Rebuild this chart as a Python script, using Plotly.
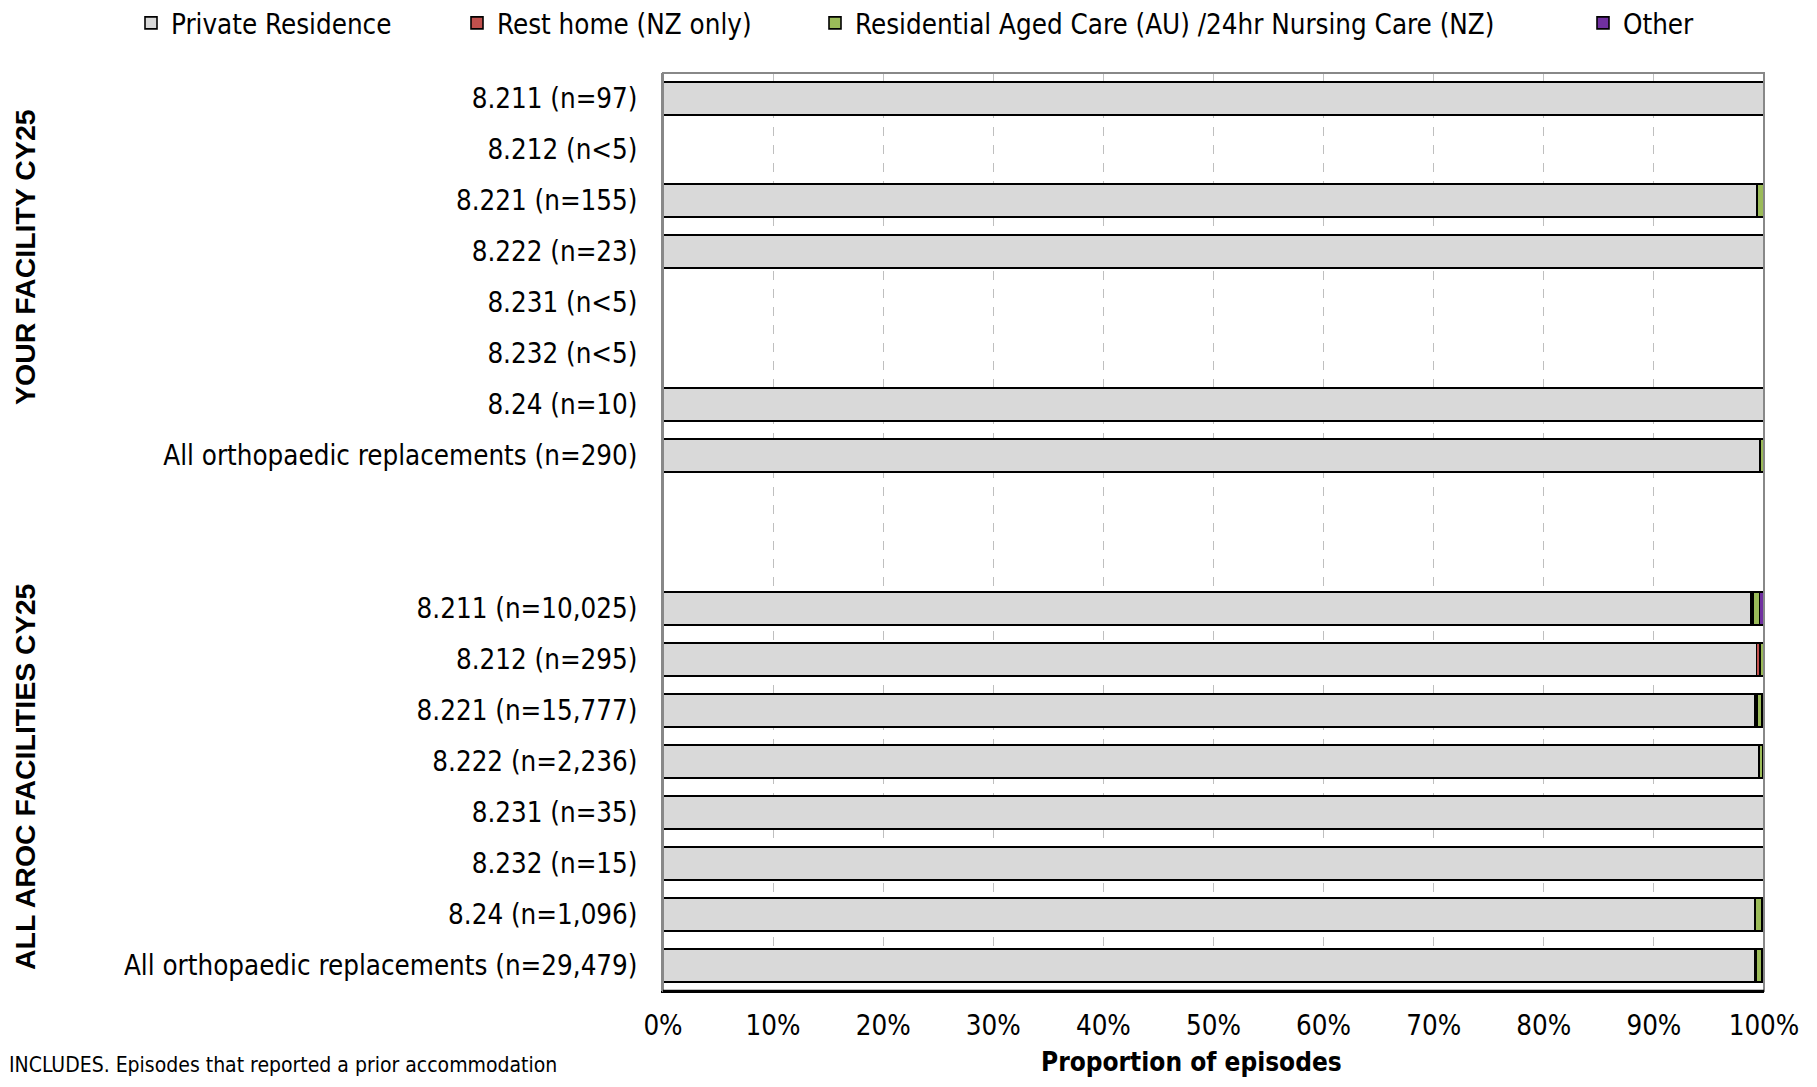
import plotly.graph_objects as go

# ---------------- data ----------------
categories = [
    "8.211 (n=97)", "8.212 (n<5)", "8.221 (n=155)", "8.222 (n=23)",
    "8.231 (n<5)", "8.232 (n<5)", "8.24 (n=10)",
    "All orthopaedic replacements (n=290)",
    " ", "  ",
    "8.211 (n=10,025)", "8.212 (n=295)", "8.221 (n=15,777)", "8.222 (n=2,236)",
    "8.231 (n=35)", "8.232 (n=15)", "8.24 (n=1,096)",
    "All orthopaedic replacements (n=29,479)",
]
series_names = [
    "Private Residence",
    "Rest home (NZ only)",
    "Residential Aged Care (AU) /24hr Nursing Care (NZ)",
    "Other",
]
private_residence = [100, 0, 99.35, 100, 0, 0, 100, 99.66, 0, 0,
                     98.8, 99.32, 99.2, 99.5, 100, 100, 99.2, 99.2]
rest_home = [0, 0, 0, 0, 0, 0, 0, 0, 0, 0,
             0.2, 0.34, 0.15, 0.1, 0, 0, 0, 0.1]
residential_care = [0, 0, 0.65, 0, 0, 0, 0, 0.34, 0, 0,
                    0.6, 0.34, 0.45, 0.25, 0, 0, 0.6, 0.5]
other = [0, 0, 0, 0, 0, 0, 0, 0, 0, 0,
         0.4, 0, 0.2, 0.15, 0, 0, 0.2, 0.2]
colors = ["#D9D9D9", "#C0504D", "#9BBB59", "#7030A0"]
x_ticks = [0, 10, 20, 30, 40, 50, 60, 70, 80, 90, 100]
x_ticklabels = [f"{v}%" for v in x_ticks]
group_labels = ["YOUR FACILITY CY25", "ALL AROC FACILITIES CY25"]
footnote = "INCLUDES. Episodes that reported a prior accommodation"
x_title = "Proportion of episodes"

# ---------------- figure ----------------
FONT = "Liberation Sans Narrow, DejaVu Sans Condensed, Roboto, Liberation Sans, sans-serif"
OFF = 8                      # page body margin
W, H = 1817 - 2 * OFF, 1087 - 2 * OFF
L, T = 663 - OFF, 73 - OFF
R = W - (1764 - OFF)
B = H - (991 - OFF)
plot_w = W - L - R
plot_h = H - T - B


def px_x(x):   # reference page x -> paper x
    return (x - OFF - L) / plot_w


def px_y(y):   # reference page y -> paper y
    return (H - B - (y - OFF)) / plot_h


fig = go.Figure()
all_series = [private_residence, rest_home, residential_care, other]
legend_ids = ["legend", "legend2", "legend3", "legend4"]
for name, vals, col, lg in zip(series_names, all_series, colors, legend_ids):
    fig.add_trace(go.Bar(
        y=categories,
        x=[v if v else None for v in vals],
        name=name,
        orientation="h",
        marker=dict(color=col, line=dict(color="#000000", width=1.6)),
        legend=lg,
        hoverinfo="name+x+y",
    ))

legend_text_x = [131, 457, 815, 1583]
legend_common = dict(
    orientation="h", xref="container", yref="container",
    xanchor="left", yanchor="middle", y=1 - (23 - OFF) / H,
    font=dict(family=FONT, size=27.5, color="#000000"),
    bgcolor="rgba(0,0,0,0)", borderwidth=0,
)
layout_legends = {}
for lg, lx in zip(legend_ids, legend_text_x):
    layout_legends[lg] = dict(legend_common, x=(lx - OFF) / W)

fig.update_layout(
    width=W, height=H,
    margin=dict(l=L, r=R, t=T, b=B, autoexpand=False),
    barmode="stack",
    bargap=0.35,
    plot_bgcolor="white",
    paper_bgcolor="white",
    font=dict(family=FONT, size=27.5, color="#000000"),
    showlegend=True,
    **layout_legends,
)

fig.update_xaxes(
    range=[0, 100],
    tickvals=x_ticks,
    ticktext=x_ticklabels,
    showgrid=True,
    gridcolor="#BFBFBF",
    griddash="dash",
    gridwidth=1,
    showline=True,
    linecolor="#000000",
    linewidth=2,
    zeroline=False,
    ticks="",
    ticklabelstandoff=9,
    tickfont=dict(family=FONT, size=27.5, color="#000000"),
    fixedrange=True,
)
fig.update_yaxes(
    type="category",
    categoryorder="array",
    categoryarray=categories,
    autorange="reversed",
    showgrid=False,
    showline=True,
    linecolor="#888888",
    linewidth=2,
    ticks="",
    ticklabelstandoff=18,
    tickfont=dict(family=FONT, size=27.5, color="#000000"),
    fixedrange=True,
)

# plot frame (top / right) in grey
fig.add_shape(type="rect", xref="paper", yref="paper", x0=0, x1=1, y0=0, y1=1,
              line=dict(color="#888888", width=2), fillcolor="rgba(0,0,0,0)",
              layer="above")
fig.add_shape(type="line", xref="paper", yref="paper", x0=0, x1=1, y0=0, y1=0,
              line=dict(color="#000000", width=2.5), layer="above")

for label, yc in zip(group_labels, [257, 777]):
    fig.add_annotation(
        text=label, xref="paper", yref="paper",
        x=px_x(25), y=px_y(yc),
        xanchor="center", yanchor="middle", textangle=-90, showarrow=False,
        font=dict(family="Liberation Sans, Arial, sans-serif", size=28.5,
                  color="#000000", weight="bold"),
    )

# bottom texts anchored to the figure's bottom edge so nothing is clipped
bottom_edge = px_y(H + OFF)
fig.add_annotation(
    text=x_title, xref="paper", yref="paper",
    x=px_x(1191), y=bottom_edge,
    xanchor="center", yanchor="bottom", showarrow=False,
    font=dict(family=FONT, size=26, color="#000000", weight="bold"),
)

fig.add_annotation(
    text=footnote, xref="paper", yref="paper",
    x=px_x(7), y=bottom_edge,
    xanchor="left", yanchor="bottom", showarrow=False,
    font=dict(family=FONT, size=21, color="#000000"),
)

fig.write_html("out.html")
